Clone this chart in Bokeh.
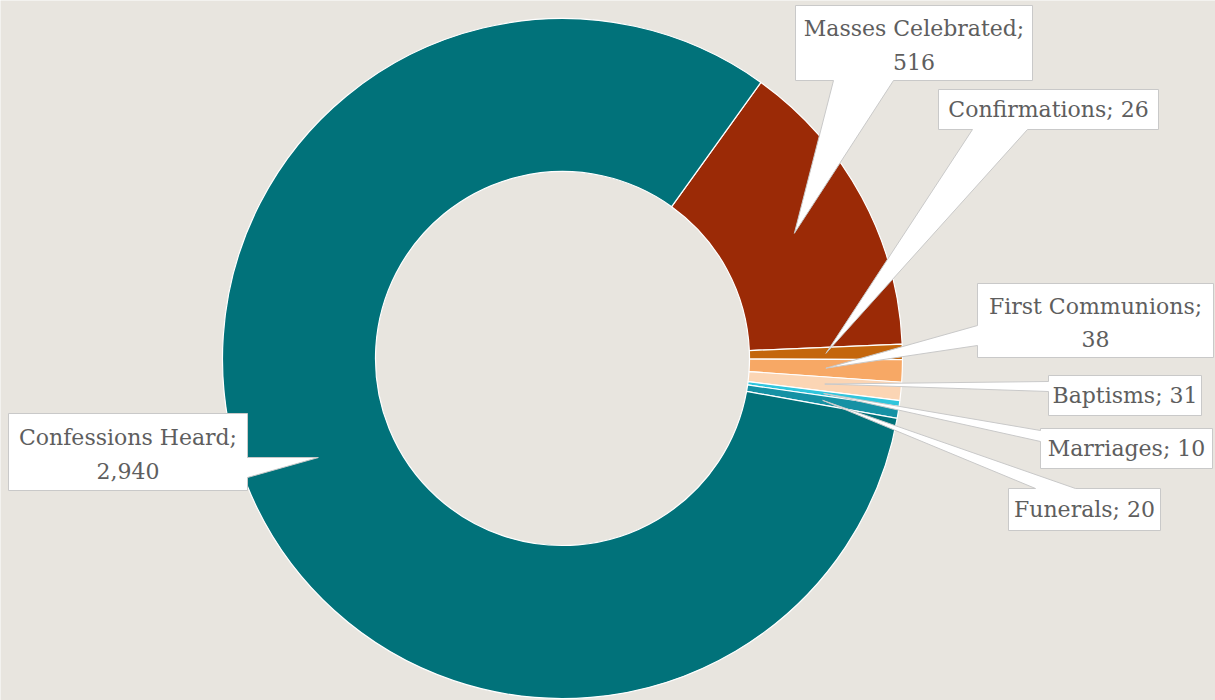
import math
from bokeh.plotting import figure
from bokeh.models import Range1d
from bokeh.core.properties import value
from bokeh.embed import file_html
from bokeh.resources import INLINE

# ---- data ----
categories = ["Masses Celebrated", "Confirmations", "First Communions",
              "Baptisms", "Marriages", "Funerals", "Confessions Heard"]
counts = [516, 26, 38, 31, 10, 20, 2940]
colors = ["#9b2a06", "#c4660c", "#f7a865", "#fbd5b4", "#30c5dc", "#1591a4", "#01727a"]
# label line breaks (first line, second line or "")
label_lines = [
    ("Masses Celebrated;", "516"),
    ("Confirmations; 26", ""),
    ("First Communions;", "38"),
    ("Baptisms; 31", ""),
    ("Marriages; 10", ""),
    ("Funerals; 20", ""),
    ("Confessions Heard;", "2,940"),
]

# ---- layout (screen pixels) ----
W, H = 1215, 700
BG = "#e8e5df"
CX, CY = 562, 358           # donut centre (screen)
R_OUT, R_IN = 340, 187
START = 35.7                # first slice angle, degrees clockwise from top
R_TIP = (R_OUT + R_IN) / 2

# callout boxes: x0, y0, x1, y1, pointer side, base a, base b
boxes = [
    (795, 5, 1032, 80, "bottom", 833, 893),
    (938, 89, 1158, 129, "bottom", 972, 1027),
    (977, 283, 1213, 357, "left", 325, 345),
    (1048, 375, 1201, 415, "left", 381, 391),
    (1040, 428, 1212, 468, "left", 430, 441),
    (1008, 488, 1160, 530, "top", 1035, 1075),
    (8, 413, 247, 490, "right", 457, 477),
]

def Y(sy):
    return H - sy

p = figure(width=W, height=H, output_backend="svg", toolbar_location=None,
           x_range=Range1d(0, W), y_range=Range1d(0, H),
           min_border=0, background_fill_color=BG, border_fill_color=BG,
           outline_line_color=None)
p.axis.visible = False
p.grid.visible = False

total = sum(counts)
starts, ends, mids = [], [], []
acc = START
for c in counts:
    span = 360.0 * c / total
    starts.append(acc)
    ends.append(acc + span)
    mids.append(acc + span / 2)
    acc += span

p.annular_wedge(x=[CX] * len(counts), y=[Y(CY)] * len(counts),
                inner_radius=R_IN, outer_radius=R_OUT,
                start_angle=[math.radians(90 - e) for e in ends],
                end_angle=[math.radians(90 - s) for s in starts],
                fill_color=colors, line_color="white", line_width=1.2)

xs, ys = [], []
for (x0, y0, x1, y1, side, a, b), m in zip(boxes, mids):
    tx = CX + R_TIP * math.sin(math.radians(m))
    ty = CY - R_TIP * math.cos(math.radians(m))
    if side == "bottom":
        pts = [(x0, y0), (x1, y0), (x1, y1), (b, y1), (tx, ty), (a, y1), (x0, y1)]
    elif side == "left":
        pts = [(x0, y0), (x1, y0), (x1, y1), (x0, y1), (x0, b), (tx, ty), (x0, a)]
    elif side == "right":
        pts = [(x0, y0), (x1, y0), (x1, a), (tx, ty), (x1, b), (x1, y1), (x0, y1)]
    else:
        pts = [(x0, y0), (a, y0), (tx, ty), (b, y0), (x1, y0), (x1, y1), (x0, y1)]
    xs.append([pt[0] for pt in pts])
    ys.append([Y(pt[1]) for pt in pts])

p.patches(xs, ys, fill_color="white", line_color="#c9c9c9", line_width=1)

tx_, ty_, tt_ = [], [], []
for (x0, y0, x1, y1, *_), (l1, l2) in zip(boxes, label_lines):
    cxl = (x0 + x1) / 2
    if l2:
        tx_ += [cxl, cxl]
        ty_ += [Y(y0 + 0.31 * (y1 - y0)), Y(y0 + 0.75 * (y1 - y0))]
        tt_ += [l1, l2]
    else:
        tx_.append(cxl)
        ty_.append(Y((y0 + y1) / 2))
        tt_.append(l1)

p.text(x=tx_, y=ty_, text=tt_, text_font=value("DejaVu Serif"),
       text_font_size="22px", text_color="#5e5e5e",
       text_align="center", text_baseline="middle")

open("out.html", "w").write(file_html(p, INLINE))
